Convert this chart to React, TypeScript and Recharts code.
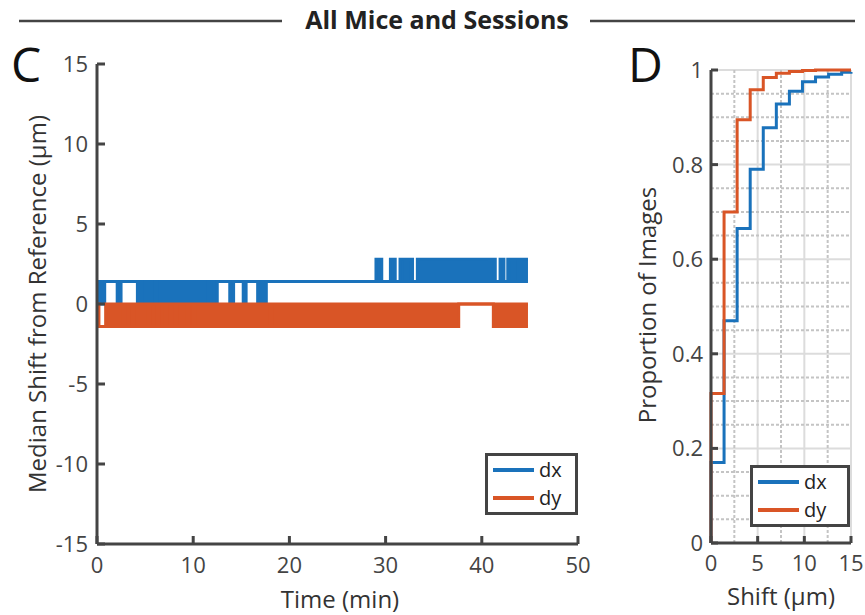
import { ComposedChart, Area, Line, XAxis, YAxis, CartesianGrid, ReferenceLine, Legend } from 'recharts'

// panel C: median shift over time, stored as step segments [start (min), low, high]
// low < high means the trace flickers between the two levels inside that stretch
const dxSegments: [number, number, number][] = [
  [0, 0, 1.4], [0.8, 1.4, 1.4], [2.1, 0, 1.4], [2.5, 1.4, 1.4],
  [4.2, 0, 1.4], [4.5, 1.4, 1.4], [4.7, 0, 1.4], [6.0, 1.4, 1.4],
  [6.2, 0, 1.4], [11.5, 1.4, 1.4], [11.8, 0, 1.4], [12.5, 1.4, 1.4],
  [13.8, 0, 1.4], [14.2, 1.4, 1.4], [15.2, 0, 1.4], [15.5, 1.4, 1.4],
  [16.7, 0, 1.4], [17.6, 1.4, 1.4],
  [29.0, 1.4, 2.8], [29.6, 1.4, 1.4], [30.5, 1.4, 2.8], [31.0, 1.4, 1.4],
  [31.5, 1.4, 2.8], [32.0, 1.4, 1.4], [32.3, 1.4, 2.8], [32.8, 1.4, 1.4],
  [33.3, 1.4, 2.8], [40.8, 1.4, 1.4], [41.0, 1.4, 2.8], [41.4, 1.4, 1.4],
  [41.9, 1.4, 2.8], [42.3, 1.4, 1.4], [42.7, 1.4, 2.8], [43.1, 1.4, 1.4],
  [43.4, 1.4, 2.8], [43.8, 1.4, 1.4], [44.1, 1.4, 2.8],
]
const dySegments: [number, number, number][] = [
  [0, -1.4, 0], [0.2, -1.4, -1.4], [0.9, -1.4, 0], [2.7, -1.4, -1.4],
  [2.9, -1.4, 0], [3.6, -1.4, -1.4], [3.8, -1.4, 0], [5.3, -1.4, -1.4],
  [5.5, -1.4, 0], [6.2, -1.4, -1.4], [6.4, -1.4, 0], [7.1, -1.4, -1.4],
  [7.3, -1.4, 0], [8.1, -1.4, -1.4], [8.3, -1.4, 0], [9.4, -1.4, -1.4],
  [9.6, -1.4, 0], [10.0, -1.4, -1.4], [10.2, -1.4, 0], [18.0, -1.4, -1.4],
  [18.2, -1.4, 0], [37.6, 0, 0], [41.2, -1.4, 0],
]
const timeEnd = 44.8
const timeTicks = [0, 10, 20, 30, 40, 50]
const shiftTicks = [-15, -10, -5, 0, 5, 10, 15]

// panel D: cumulative proportion of images vs shift
const shiftSteps = [0, 0, 1.4, 2.8, 4.2, 5.6, 7.0, 8.4, 9.8, 11.2, 12.6, 14.0, 15]
const dxCdf = [0, 0.17, 0.47, 0.665, 0.79, 0.878, 0.928, 0.955, 0.975, 0.985, 0.991, 0.995, 0.996]
const dyCdf = [0, 0.316, 0.70, 0.895, 0.958, 0.984, 0.993, 0.997, 0.999, 1, 1, 1, 1]
const shiftAxisTicks = [0, 5, 10, 15]
const propTicks = [0, 0.2, 0.4, 0.6, 0.8, 1]
const minorShift = [2.5, 7.5, 12.5]
const minorProp = [0.05, 0.1, 0.15, 0.25, 0.3, 0.35, 0.45, 0.5, 0.55, 0.65, 0.7, 0.75, 0.85, 0.9, 0.95]

const BLUE = '#1a72bb'
const ORANGE = '#d95526'
const AXIS = '#444444'
const FONT = '"Open Sans", sans-serif'

const segAt = (segs: [number, number, number][], t: number) => {
  let cur = segs[0]
  for (const s of segs) if (s[0] <= t) cur = s
  return [cur[1], cur[2]]
}

const times = Array.from(new Set([...dxSegments.map(s => s[0]), ...dySegments.map(s => s[0]), timeEnd])).sort((a, b) => a - b)
const timeTable = times.map(t => ({ t, dx: segAt(dxSegments, t), dy: segAt(dySegments, t) }))
const cdfTable = shiftSteps.map((s, i) => ({ s, dx: dxCdf[i], dy: dyCdf[i] }))

const axisLine = { stroke: AXIS, strokeWidth: 3 }

// ticks point into the plot, labels stay outside
function InTick({ x, y, payload, side, gap, len }: any) {
  if (side === 'bottom') {
    const ay = y - gap
    return (
      <g>
        <rect x={x - 1.5} y={ay - len} width={3} height={len} fill={AXIS} />
        <text x={x} y={y} dy="0.71em" textAnchor="middle" fill={AXIS} fontSize={22} fontFamily={FONT}>{payload.value}</text>
      </g>
    )
  }
  const ax = x + gap
  return (
    <g>
      <rect x={ax} y={y - 1.5} width={len} height={3} fill={AXIS} />
      <text x={x} y={y} dy="0.36em" textAnchor="end" fill={AXIS} fontSize={22} fontFamily={FONT}>{payload.value}</text>
    </g>
  )
}

function LegendBox({ payload }: any) {
  return (
    <div style={{ border: `3px solid ${AXIS}`, background: '#fff', boxSizing: 'border-box', width: '100%', height: '100%', padding: '0 0 0 5px' }}>
      {(payload ?? []).map((p: any) => (
        <div key={p.value} style={{ display: 'flex', alignItems: 'center', height: 28 }}>
          <span style={{ display: 'inline-block', width: 41, height: 4, background: p.color, marginRight: 5 }} />
          <span style={{ fontFamily: FONT, fontSize: 20, color: '#222', lineHeight: '22px' }}>{p.value}</span>
        </div>
      ))}
    </div>
  )
}

export default function App() {
  return (
    <div style={{ position: 'absolute', left: 0, top: 0, width: 865, height: 615, background: '#fff', overflow: 'hidden' }}>
      <div style={{ position: 'absolute', left: 0, top: 0 }}>
        <ComposedChart width={600} height={615} data={timeTable} margin={{ top: 64, right: 22, bottom: 41, left: 37 }}>
          <XAxis type="number" dataKey="t" domain={[0, 50]} ticks={timeTicks} interval={0} height={30}
            axisLine={axisLine} tickLine={false} tickSize={0} tickMargin={13}
            tick={(p: any) => <InTick {...p} side="bottom" gap={13} len={8} />} />
          <YAxis type="number" domain={[-15, 15]} ticks={shiftTicks} interval={0} width={60}
            axisLine={axisLine} tickLine={false} tickSize={0} tickMargin={9}
            tick={(p: any) => <InTick {...p} side="left" gap={9} len={8} />} />
          <Area type="stepAfter" dataKey="dx" name="dx" stroke={BLUE} strokeWidth={3} fill={BLUE} fillOpacity={1}
            dot={false} activeDot={false} isAnimationActive={false} />
          <Area type="stepAfter" dataKey="dy" name="dy" stroke={ORANGE} strokeWidth={3} fill={ORANGE} fillOpacity={1}
            dot={false} activeDot={false} isAnimationActive={false} />
          <Legend layout="vertical" align="center" verticalAlign="middle"
            wrapperStyle={{ left: 485, top: 453, width: 93, height: 62 }}
            content={(props: any) => <LegendBox {...props} />} />
        </ComposedChart>
      </div>

      <div style={{ position: 'absolute', left: 600, top: 0 }}>
        <ComposedChart width={265} height={615} data={cdfTable} margin={{ top: 70, right: 14, bottom: 42, left: 61 }}>
          <CartesianGrid stroke="#dcdcdc" strokeWidth={2} />
          {minorShift.map(v => (
            <ReferenceLine key={'x' + v} x={v} stroke="#c4c4c4" strokeWidth={2} strokeDasharray="3 2" />
          ))}
          {minorProp.map(v => (
            <ReferenceLine key={'y' + v} y={v} stroke="#c4c4c4" strokeWidth={2} strokeDasharray="3 2" />
          ))}
          <XAxis type="number" dataKey="s" domain={[0, 15]} ticks={shiftAxisTicks} interval={0} height={30}
            axisLine={axisLine} tickLine={false} tickSize={0} tickMargin={12}
            tick={(p: any) => <InTick {...p} side="bottom" gap={12} len={7} />} />
          <YAxis type="number" domain={[0, 1]} ticks={propTicks} interval={0} width={50}
            axisLine={axisLine} tickLine={false} tickSize={0} tickMargin={8}
            tick={(p: any) => <InTick {...p} side="left" gap={8} len={7} />} />
          <Line type="stepAfter" dataKey="dx" name="dx" stroke={BLUE} strokeWidth={3} dot={false} activeDot={false} isAnimationActive={false} />
          <Line type="stepAfter" dataKey="dy" name="dy" stroke={ORANGE} strokeWidth={3} dot={false} activeDot={false} isAnimationActive={false} />
          <Legend layout="vertical" align="center" verticalAlign="middle"
            wrapperStyle={{ left: 150, top: 465, width: 100, height: 62 }}
            content={(props: any) => <LegendBox {...props} />} />
        </ComposedChart>
      </div>

      <svg width={865} height={615} style={{ position: 'absolute', left: 0, top: 0, pointerEvents: 'none' }}>
        <line x1={19} x2={282} y1={21} y2={21} stroke={AXIS} strokeWidth={2.5} />
        <line x1={590} x2={855} y1={21} y2={21} stroke={AXIS} strokeWidth={2.5} />
        <text x={437} y={29} textAnchor="middle" fontFamily={FONT} fontWeight={700} fontSize={25} fill="#222">All Mice and Sessions</text>
        <text x={11} y={82} fontFamily={FONT} fontSize={48} fill="#111">C</text>
        <text x={628} y={82} fontFamily={FONT} fontSize={48} fill="#111">D</text>
        <text transform="translate(46,304) rotate(-90)" textAnchor="middle" fontFamily={FONT} fontSize={24} fill="#333">Median Shift from Reference (µm)</text>
        <text transform="translate(656,305) rotate(-90)" textAnchor="middle" fontFamily={FONT} fontSize={24} fill="#333">Proportion of Images</text>
        <text x={340} y={608} textAnchor="middle" fontFamily={FONT} fontSize={24} fill="#333">Time (min)</text>
        <text x={781} y={605} textAnchor="middle" fontFamily={FONT} fontSize={24} fill="#333">Shift (µm)</text>
      </svg>
    </div>
  )
}
